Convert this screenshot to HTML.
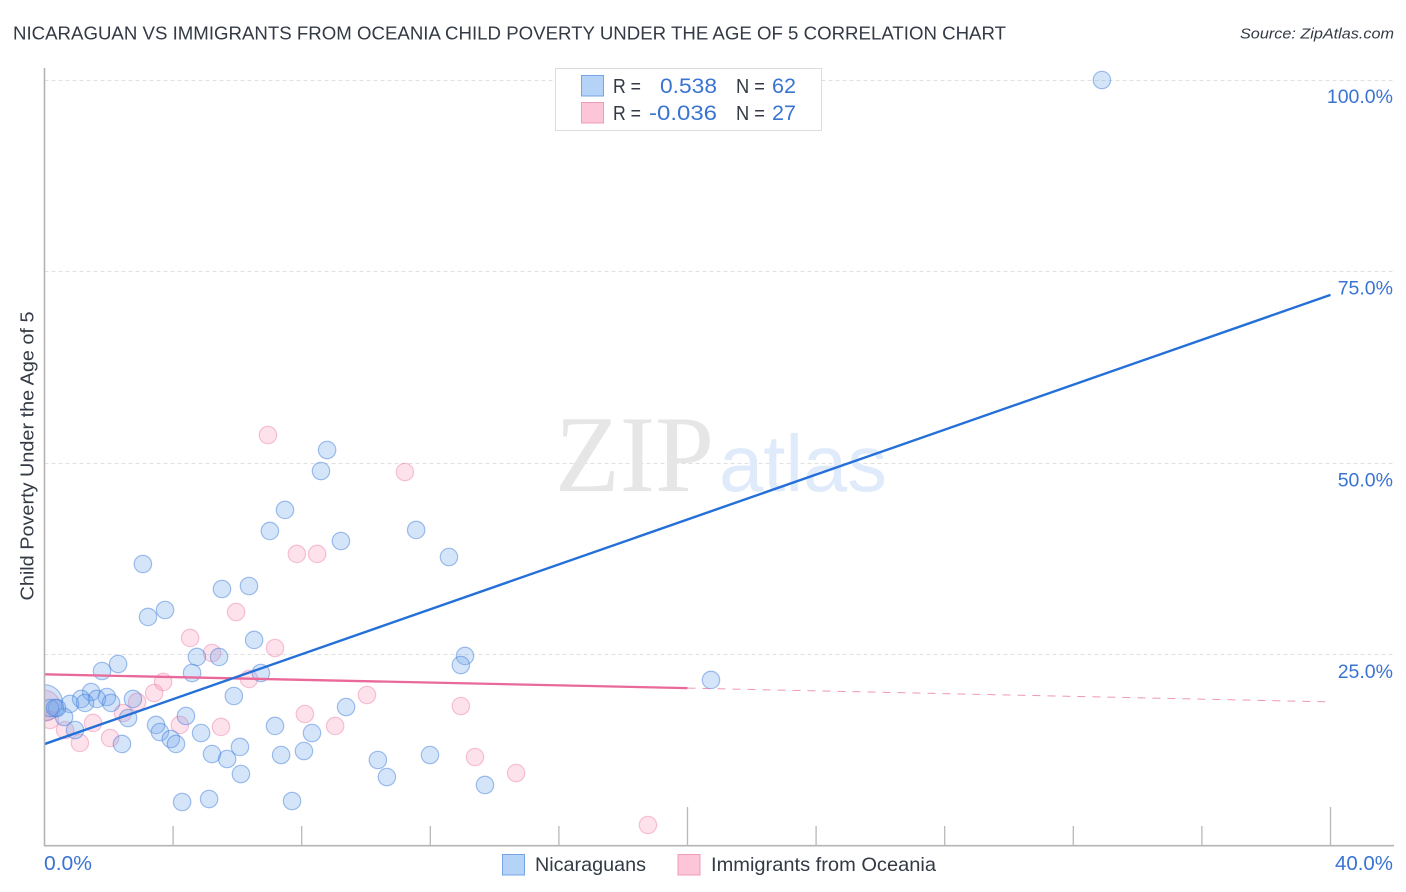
<!DOCTYPE html>
<html lang="en">
<head>
<meta charset="utf-8">
<title>Nicaraguan vs Immigrants from Oceania Child Poverty Correlation Chart</title>
<style>
html,body{margin:0;padding:0;background:#fff;}
svg{display:block;font-family:"Liberation Sans",sans-serif;}
</style>
</head>
<body>
<svg id="chart" xmlns="http://www.w3.org/2000/svg" width="1406" height="892" viewBox="0 0 1406 892">
  <defs>
    <clipPath id="plot-clip"><rect x="44" y="60" width="1350" height="786"/></clipPath>
  </defs>
  <rect x="0" y="0" width="1406" height="892" fill="#ffffff"/>
  <text x="13" y="39.5" font-size="18.5" fill="#333a44" textLength="993" lengthAdjust="spacingAndGlyphs">NICARAGUAN VS IMMIGRANTS FROM OCEANIA CHILD POVERTY UNDER THE AGE OF 5 CORRELATION CHART</text>
  <text x="1394" y="38.5" font-size="15" font-style="italic" fill="#333a44" text-anchor="end" textLength="154" lengthAdjust="spacingAndGlyphs">Source: ZipAtlas.com</text>
  <g id="grid"></g>
  <g>
    <text x="555" y="491" font-family="'Liberation Serif',serif" font-size="109" fill="#e6e6e6" textLength="159" lengthAdjust="spacingAndGlyphs">ZIP</text>
    <text x="719" y="491" font-size="80" fill="#dfeafa" textLength="168" lengthAdjust="spacingAndGlyphs">atlas</text>
  </g>
  <g id="points" clip-path="url(#plot-clip)"></g>
  <g id="trends"></g>
  <g id="axes"></g>
  <text transform="translate(33.5,456) rotate(-90)" font-size="18.5" fill="#333a44" text-anchor="middle" textLength="289" lengthAdjust="spacingAndGlyphs">Child Poverty Under the Age of 5</text>

  <g>
    <rect x="555.5" y="68.5" width="266" height="62" fill="#ffffff" stroke="#dcdcdc" stroke-width="1"/>
    <rect x="581.5" y="75.5" width="22" height="20.5" fill="#b5d2f7" stroke="#76a5e5" stroke-width="1"/>
    <rect x="581.5" y="102.5" width="22" height="20.5" fill="#fcc6d8" stroke="#f09cb8" stroke-width="1"/>
    <text x="613" y="93" font-size="20" fill="#333a44" textLength="28" lengthAdjust="spacingAndGlyphs">R =</text>
    <text x="717" y="93" font-size="21" fill="#3a74d2" text-anchor="end" textLength="57" lengthAdjust="spacingAndGlyphs">0.538</text>
    <text x="736" y="93" font-size="20" fill="#333a44" textLength="29" lengthAdjust="spacingAndGlyphs">N =</text>
    <text x="796" y="93" font-size="21" fill="#3a74d2" text-anchor="end" textLength="24" lengthAdjust="spacingAndGlyphs">62</text>
    <text x="613" y="120" font-size="20" fill="#333a44" textLength="28" lengthAdjust="spacingAndGlyphs">R =</text>
    <text x="717" y="120" font-size="21" fill="#3a74d2" text-anchor="end" textLength="68" lengthAdjust="spacingAndGlyphs">-0.036</text>
    <text x="736" y="120" font-size="20" fill="#333a44" textLength="29" lengthAdjust="spacingAndGlyphs">N =</text>
    <text x="796" y="120" font-size="21" fill="#3a74d2" text-anchor="end" textLength="24" lengthAdjust="spacingAndGlyphs">27</text>
  </g>

  <g>
    <rect x="502.5" y="854.5" width="22" height="20.5" fill="#b5d2f7" stroke="#76a5e5" stroke-width="1"/>
    <text x="535" y="871" font-size="19.5" fill="#333a44" textLength="111" lengthAdjust="spacingAndGlyphs">Nicaraguans</text>
    <rect x="678" y="854.5" width="22" height="20.5" fill="#fcc6d8" stroke="#f09cb8" stroke-width="1"/>
    <text x="711" y="871" font-size="19.5" fill="#333a44" textLength="225" lengthAdjust="spacingAndGlyphs">Immigrants from Oceania</text>
  </g>
</svg>
<script>
// Axis tick values (percent)
const xTickValues = [0, 4, 8, 12, 16, 20, 24, 28, 32, 36, 40];
const xMajorTicks = [20, 40];
const xEndLabels = ["0.0%", "40.0%"];
const xEndLabelValues = [0, 40];
const yTickValues = [100, 75, 50, 25];
const yTickLabels = ["100.0%", "75.0%", "50.0%", "25.0%"];

// Series values: child poverty rate (x: Nicaraguan / Oceanian share %, y: poverty %)
const nicaraguanX = [32.89,20.73,8.79,8.60,7.48,7.01,9.22,11.56,12.58,3.06,5.52,6.36,3.75,3.22,6.52,13.08,12.95,2.29,1.79,4.74,5.43,4.59,6.73,5.89,9.38,1.45,1.94,1.14,1.63,1.26,2.07,0.79,2.75,2.60,0.61,0.39,0.17,0.33,0.95,4.40,3.47,3.59,3.93,4.09,4.87,2.41,7.17,8.32,6.08,5.21,5.68,7.36,8.07,6.11,4.28,5.12,7.70,10.37,10.65,11.99,13.70];
const nicaraguanY = [99.93,21.66,51.66,48.92,43.84,41.10,39.79,41.23,37.70,36.79,33.53,33.92,30.79,29.88,26.88,24.79,23.61,23.74,22.83,24.66,24.66,22.57,22.57,19.57,18.13,20.09,19.44,19.18,19.18,18.66,18.66,18.53,19.18,16.70,16.83,18.00,18.00,18.00,15.13,16.96,15.79,14.87,13.96,13.31,14.74,13.31,15.66,14.74,12.92,12.00,11.35,11.87,12.39,9.39,5.74,6.13,5.87,11.22,9.00,11.87,7.96];
const oceaniaX = [6.95,11.21,7.85,8.48,5.96,4.53,5.21,7.17,3.69,3.41,6.36,10.03,8.10,9.04,12.95,13.39,14.67,18.77,5.49,4.21,1.51,2.04,1.10,0.64,2.44,2.88,0.17];
const oceaniaY = [53.62,48.79,38.10,38.10,30.53,27.14,25.18,25.83,21.40,19.96,21.79,19.70,17.22,15.66,18.26,11.61,9.52,2.74,15.53,15.79,16.05,14.09,13.44,15.13,17.35,18.79,16.44];
// Heavily weighted aggregate points near the origin
const nicaraguanLargeX = [0];
const nicaraguanLargeY = [18.7];
const oceaniaLargeX = [0];
const oceaniaLargeY = [18.3];

// Regression lines: [x, y] values
const nicaraguanTrendX = [0, 40];
const nicaraguanTrendY = [13.3, 71.9];
const oceaniaTrendSolidX = [0, 20];
const oceaniaTrendSolidY = [22.4, 20.6];
const oceaniaTrendDashedX = [20, 40];
const oceaniaTrendDashedY = [20.6, 18.8];

// Axis functions
const PLOT = {x0: 44.5, x40: 1330.5, y0: 846, y100: 79.5, right: 1394};
function xScale(v) { return PLOT.x0 + (PLOT.x40 - PLOT.x0) * v / 40; }
function yScale(v) { return PLOT.y0 - (PLOT.y0 - PLOT.y100) * v / 100; }

const NS = 'http://www.w3.org/2000/svg';
function make(tag, parent, attrs) {
  const el = document.createElementNS(NS, tag);
  for (const k in attrs) el.setAttribute(k, attrs[k]);
  parent.appendChild(el);
  return el;
}

const grid = document.getElementById('grid');
const axes = document.getElementById('axes');
const points = document.getElementById('points');
const trends = document.getElementById('trends');

yTickValues.forEach(function (v, i) {
  const y = Math.round(yScale(v)) + 0.5;
  const line = make('line', grid, {x1: PLOT.x0, x2: PLOT.right, y1: y, y2: y, stroke: '#e0e0e0', 'stroke-width': 1, 'stroke-dasharray': '4 3'});
  
  
  const label = make('text', axes, {x: 1393, y: yScale(v) + 23.6, 'font-size': 19.5, fill: '#3a74d2', 'text-anchor': 'end'});
  label.textContent = yTickLabels[i];
  
  
});

const yAxis = make('line', axes, {x1: 44.5, x2: 44.5, y1: 68, y2: 846, stroke: '#b4b4b4', 'stroke-width': 1.6});


const xAxis = make('line', axes, {x1: 44, x2: PLOT.right, y1: 845.7, y2: 845.7, stroke: '#b4b4b4', 'stroke-width': 1.6});



xTickValues.forEach(function (v) {
  if (v === 0) return;
  const top = xMajorTicks.indexOf(v) >= 0 ? 807 : 826;
  const tick = make('line', axes, {x1: xScale(v), x2: xScale(v), y1: top, y2: 846, stroke: '#b8b8b8', 'stroke-width': 1.3});
  
  
});

xEndLabels.forEach(function (t, i) {
  const isFirst = xEndLabelValues[i] === 0;
  const label = make('text', axes, {x: isFirst ? 44 : 1393, y: 870, 'font-size': 20, fill: '#3a74d2', 'text-anchor': isFirst ? 'start' : 'end', textLength: isFirst ? 48 : 58, lengthAdjust: 'spacingAndGlyphs'});
  label.textContent = t;
  
  
});

function drawDot(x, y, r, fill, stroke, name) {
  const c = make('circle', points, {cx: xScale(x), cy: yScale(y), r: r, fill: fill, stroke: stroke, 'stroke-width': 1.2});
  
  
}
const BLUE_FILL = 'rgba(110,165,235,0.29)', BLUE_STROKE = 'rgba(70,130,220,0.5)';
const PINK_FILL = 'rgba(248,150,185,0.29)', PINK_STROKE = 'rgba(235,120,165,0.42)';

oceaniaLargeX.forEach(function (x, i) { drawDot(x, oceaniaLargeY[i], 15.5, PINK_FILL, PINK_STROKE, 'point-oceania-large'); });
nicaraguanLargeX.forEach(function (x, i) { drawDot(x, nicaraguanLargeY[i], 18, BLUE_FILL, BLUE_STROKE, 'point-nicaraguan-large'); });
oceaniaX.forEach(function (x, i) { drawDot(x, oceaniaY[i], 8.7, PINK_FILL, PINK_STROKE, 'point-oceania'); });
nicaraguanX.forEach(function (x, i) { drawDot(x, nicaraguanY[i], 8.7, BLUE_FILL, BLUE_STROKE, 'point-nicaraguan'); });

function pointsAttr(xs, ys) {
  return xs.map(function (x, i) { return xScale(x) + ',' + yScale(ys[i]); }).join(' ');
}
const pinkSolid = make('polyline', trends, {points: pointsAttr(oceaniaTrendSolidX, oceaniaTrendSolidY), fill: 'none', stroke: '#e9699a', 'stroke-width': 2.3});


const pinkDash = make('polyline', trends, {points: pointsAttr(oceaniaTrendDashedX, oceaniaTrendDashedY), fill: 'none', stroke: '#e9699a', 'stroke-width': 1, 'stroke-dasharray': '8 7', 'stroke-opacity': 0.7});


const blueLine = make('polyline', trends, {points: pointsAttr(nicaraguanTrendX, nicaraguanTrendY), fill: 'none', stroke: '#2470d8', 'stroke-width': 2.4});


</script>
</body>
</html>
